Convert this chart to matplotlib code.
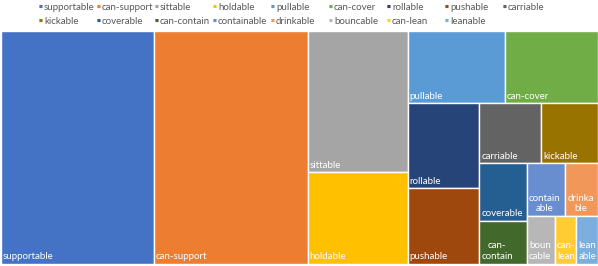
import matplotlib
matplotlib.use("Agg")
import matplotlib.pyplot as plt
from matplotlib.patches import Rectangle

# ---- data ----
categories = ["supportable", "can-support", "sittable", "holdable", "pullable",
              "can-cover", "rollable", "pushable", "carriable", "kickable",
              "coverable", "can-contain", "containable", "drinkable",
              "bouncable", "can-lean", "leanable"]
values = [106, 106, 42, 27, 21, 20, 18, 16, 11, 10, 8, 6, 6, 5, 4, 3, 3]
# wrapped labels as shown inside small tiles
tile_labels = ["supportable", "can-support", "sittable", "holdable", "pullable",
               "can-cover", "rollable", "pushable", "carriable", "kickable",
               "coverable", "can-\ncontain", "contain\nable", "drinka\nble",
               "boun\ncable", "can-\nlean", "lean\nable"]
colors = ["#4472C4", "#ED7D31", "#A5A5A5", "#FFC000", "#5B9BD5", "#70AD47",
          "#264478", "#9E480E", "#636363", "#997300", "#255E91", "#43682B",
          "#698ED0", "#F1975A", "#B7B7B7", "#FFCD33", "#7CAFDD"]

# strip structure of the treemap (item counts per strip and orientation)
strips = [("col", 1), ("col", 1), ("col", 2), ("row", 2), ("col", 2),
          ("row", 2), ("col", 2), ("row", 2), ("row", 3)]

plt.rcParams['font.family'] = ['Lato', 'DejaVu Sans']

W, H = 597.0, 233.0
fig = plt.figure(figsize=(5.98, 2.66), dpi=100)
ax = fig.add_axes([0.5 / 598, (266 - 263.5) / 266, W / 598, H / 266])
ax.set_xlim(0, W)
ax.set_ylim(H, 0)
ax.axis("off")

total = float(sum(values))
scale = W * H / total
x0, y0, x1, y1 = 0.0, 0.0, W, H
idx = 0
rects = []
for orient, n in strips:
    group = values[idx:idx + n]
    garea = sum(group) * scale
    if orient == "col":
        w = garea / (y1 - y0)
        yy = y0
        for v in group:
            h = v * scale / w
            rects.append((x0, yy, w, h))
            yy += h
        x0 += w
    else:
        h = garea / (x1 - x0)
        xx = x0
        for v in group:
            w = v * scale / h
            rects.append((xx, y0, w, h))
            xx += w
        y0 += h
    idx += n

for (rx, ry, rw, rh), c, lab in zip(rects, colors, tile_labels):
    ax.add_patch(Rectangle((rx, ry), rw, rh, facecolor=c, edgecolor="white",
                           linewidth=1.0))
    ax.text(rx + 2.0, ry + rh - 2.5, lab, color="white", fontsize=7.0,
            ha="left", va="bottom", multialignment="center",
            linespacing=1.25)

# legend (two rows, evenly spaced)
ncol = 9
dx = 58.0
for i, (name, c) in enumerate(zip(categories, colors)):
    r, k = divmod(i, ncol)
    px = 40.5 + k * dx
    py = 7.0 + r * 14
    fig.text(px / 598, 1 - py / 266, "\u25A0", color=c, fontsize=3.0,
             ha="center", va="center")
    fig.text((px + 3.5) / 598, 1 - py / 266, name, color="#595959",
             fontsize=7.0, ha="left", va="center")

fig.savefig("out.png", dpi=100)
